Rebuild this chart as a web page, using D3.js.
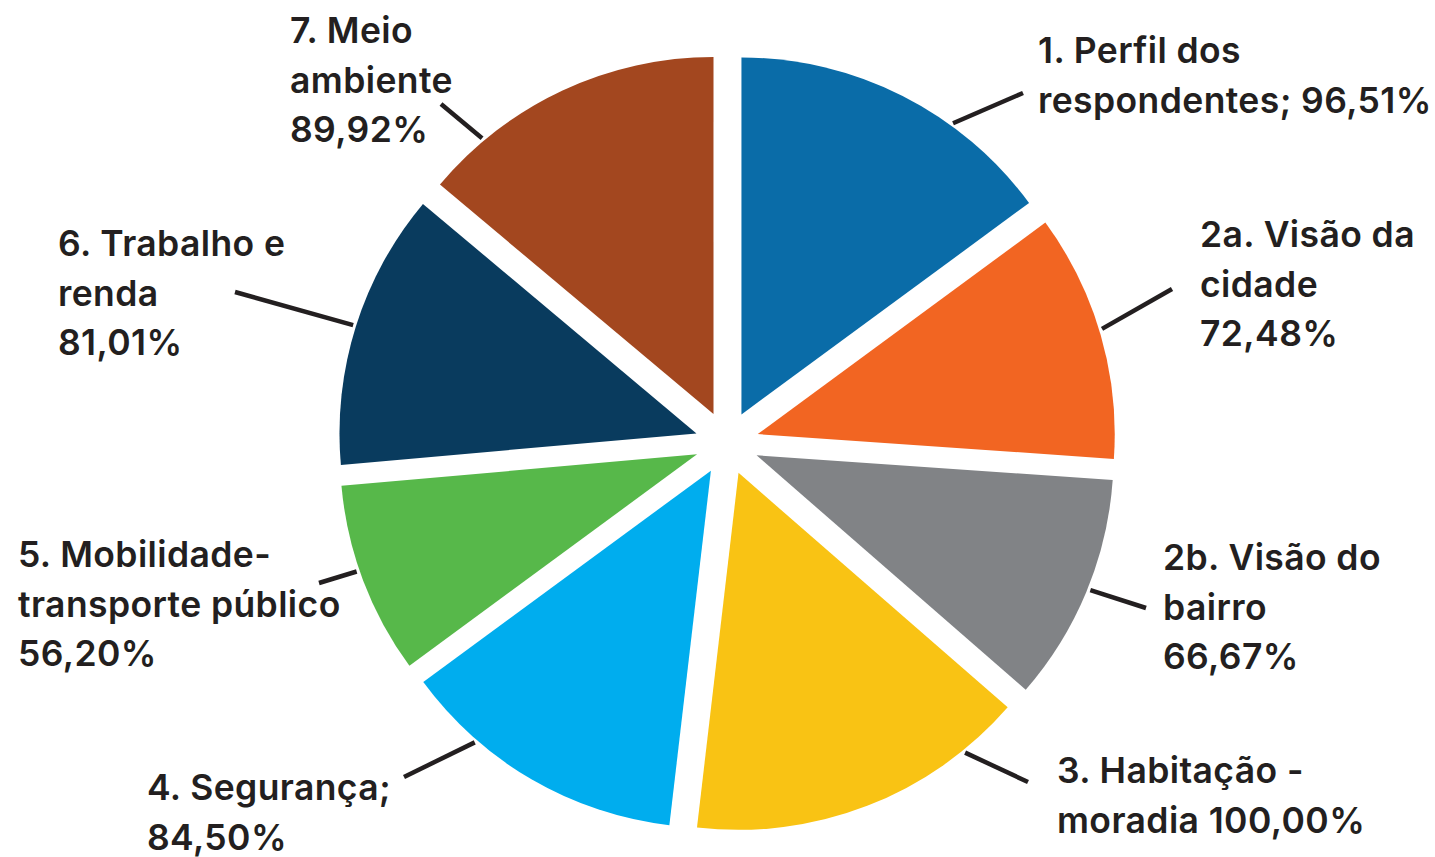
<!DOCTYPE html>
<html>
<head>
<meta charset="utf-8">
<script src="https://cdn.jsdelivr.net/npm/d3@7"></script>
<style>
  html, body { margin: 0; padding: 0; background: #fff; }
  svg { display: block; }
</style>
</head>
<body>
<div id="chart"></div>
<script>
// data
const categories = ["1", "2a", "2b", "3", "4", "5", "6", "7"];
const values = [96.51, 72.48, 66.67, 100.00, 84.50, 56.20, 81.01, 89.92];
const labelLines = [
    ["1. Perfil dos", "respondentes; %v"],
    ["2a. Visão da", "cidade", "%v"],
    ["2b. Visão do", "bairro", "%v"],
    ["3. Habitação -", "moradia %v"],
    ["4. Segurança;", "%v"],
    ["5. Mobilidade-", "transporte público", "%v"],
    ["6. Trabalho e", "renda", "%v"],
    ["7. Meio", "ambiente", "%v"]
];
const colors = ["#0a6ca8", "#f26522", "#818386", "#f9c314", "#00adee", "#57b84a", "#093b5e", "#a3471f"];

// label layout: text anchor (x, first baseline), leader end point, leader start angle on arc (deg)
const labelPos = [
    { x: 1038, y: 63, lx: 1023, ly: 93, a: 36 },
    { x: 1200, y: 247, lx: 1172, ly: 289, a: 73 },
    { x: 1163, y: 570, lx: 1146, ly: 608, a: 112 },
    { x: 1057, y: 783, lx: 1028, ly: 782, a: 141 },
    { x: 147, y: 800, lx: 404, ly: 777, a: 221 },
    { x: 18, y: 567, lx: 319, ly: 583, a: 251 },
    { x: 58, y: 256, lx: 235, ly: 292, a: 287.5 },
    { x: 290, y: 43, lx: 441, ly: 104, a: 320 }
];

const width = 1435, height = 857;
const cx = 727, cy = 443;
const radius = 357;
const explode = 32;
const lineH = 49.5;

const fmt = v => d3.format(".2f")(v).replace(".", ",") + "%";

const svg = d3.select("#chart")
    .append("svg")
    .attr("width", width)
    .attr("height", height);

const pie = d3.pie().sort(null).value(d => d.value);
const arc = d3.arc().innerRadius(0).outerRadius(radius);

const data = categories.map((c, i) => ({ cat: c, value: values[i], i: i }));
const arcs = pie(data);

const g = svg.append("g").attr("transform", "translate(" + cx + "," + cy + ")");

// offset of each slice along its bisector
function offset(d) {
    let mid = (d.startAngle + d.endAngle) / 2;
    return [explode * Math.sin(mid), -explode * Math.cos(mid)];
}

g.selectAll(".slice")
    .data(arcs)
    .enter()
    .append("path")
    .attr("class", "slice")
    .attr("transform", function (d) {
        let o = offset(d);
        return "translate(" + o[0] + "," + o[1] + ")";
    })
    .attr("d", arc)
    .style("fill", function (d) {
        return colors[d.data.i];
    });

// leader lines
svg.selectAll(".leader")
    .data(arcs)
    .enter()
    .append("line")
    .attr("class", "leader")
    .attr("x1", function (d) {
        let o = offset(d), a = labelPos[d.data.i].a * Math.PI / 180;
        return cx + o[0] + (radius + 3) * Math.sin(a);
    })
    .attr("y1", function (d) {
        let o = offset(d), a = labelPos[d.data.i].a * Math.PI / 180;
        return cy + o[1] - (radius + 3) * Math.cos(a);
    })
    .attr("x2", d => labelPos[d.data.i].lx)
    .attr("y2", d => labelPos[d.data.i].ly)
    .attr("stroke", "#231f20")
    .attr("stroke-width", 4.5);

// labels
const label = svg.selectAll(".label")
    .data(arcs)
    .enter()
    .append("text")
    .attr("class", "label")
    .attr("font-family", "Inter, 'Noto Sans', sans-serif")
    .attr("font-weight", 600)
    .attr("font-size", 35.5)
    .attr("letter-spacing", 0.4)
    .attr("fill", "#231f20");

label.selectAll("tspan")
    .data(function (d) {
        return labelLines[d.data.i].map((t, k) => ({
            text: t.replace("%v", fmt(d.data.value)),
            k: k,
            p: labelPos[d.data.i]
        }));
    })
    .enter()
    .append("tspan")
    .attr("x", d => d.p.x)
    .attr("y", d => d.p.y + d.k * lineH)
    .text(d => d.text);
</script>
</body>
</html>
